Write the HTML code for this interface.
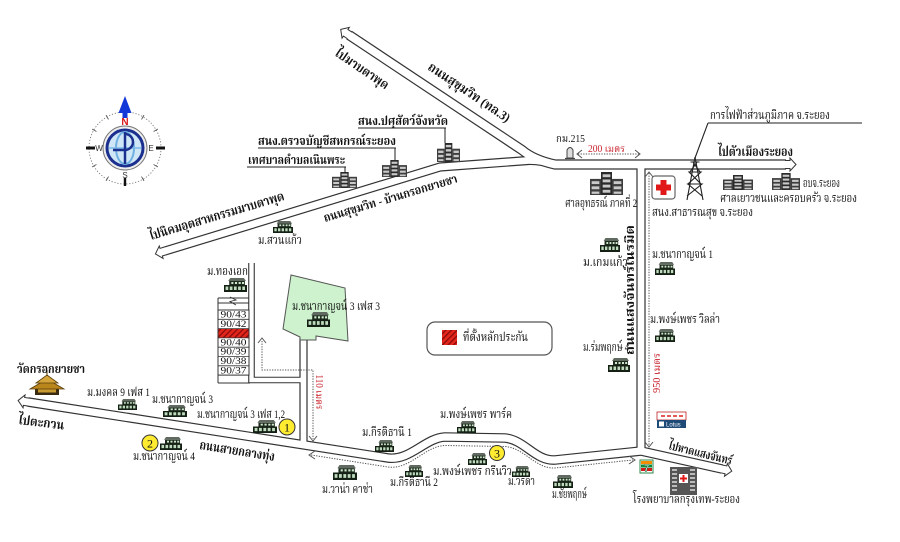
<!DOCTYPE html>
<html><head><meta charset="utf-8">
<style>
html,body{margin:0;padding:0;background:#fff;}
svg{display:block;}
text{font-family:"Liberation Serif","Norasi","Kinnari","Noto Serif Thai","Noto Sans Thai","Garuda","Loma","DejaVu Serif",serif;fill:#111;font-size:12px;}
.b{font-weight:bold;}
.red{fill:#c8202a;}
</style></head><body>
<svg width="900" height="542" viewBox="0 0 900 542" xmlns="http://www.w3.org/2000/svg">
<defs>
<pattern id="hatch" width="4" height="4" patternUnits="userSpaceOnUse" patternTransform="rotate(45)">
<rect width="4" height="4" fill="#e3261c"/><rect width="1.4" height="4" fill="#8e0c0c"/>
</pattern>
<symbol id="h" viewBox="0 0 22 14" preserveAspectRatio="none">
<path d="M6 0H19L21 3H4Z" fill="#606a60"/>
<rect x="5" y="3" width="15" height="4" fill="#1d2a1d"/>
<rect x="7" y="4" width="2" height="2" fill="#cde8cd"/><rect x="10.5" y="4" width="2" height="2" fill="#cde8cd"/><rect x="14" y="4" width="2" height="2" fill="#cde8cd"/><rect x="17.2" y="4" width="2" height="2" fill="#cde8cd"/>
<rect x="0" y="7" width="22" height="7" fill="#142014"/>
<rect x="1.5" y="8.5" width="2.6" height="3.5" fill="#bfdcbf"/><rect x="5.5" y="8.5" width="2.6" height="3.5" fill="#bfdcbf"/><rect x="9.5" y="8.5" width="2.6" height="3.5" fill="#bfdcbf"/><rect x="13.5" y="8.5" width="2.6" height="3.5" fill="#bfdcbf"/><rect x="17.5" y="8.5" width="2.6" height="3.5" fill="#bfdcbf"/>
</symbol>
<symbol id="o" viewBox="0 0 30 20" preserveAspectRatio="none">
<rect x="0" y="6" width="10" height="14" fill="#3e3e3e"/>
<rect x="10" y="0" width="10" height="20" fill="#2a2a2a"/>
<rect x="20" y="6" width="10" height="14" fill="#3e3e3e"/>
<g fill="#c9c9c9">
<rect x="1.5" y="8" width="7" height="2.5"/><rect x="1.5" y="12.5" width="7" height="2.5"/><rect x="1.5" y="17" width="7" height="2"/>
<rect x="11.5" y="2" width="7" height="2.5"/><rect x="11.5" y="6.5" width="7" height="2.5"/><rect x="11.5" y="11" width="7" height="2.5"/><rect x="11.5" y="15.5" width="7" height="2.5"/>
<rect x="21.5" y="8" width="7" height="2.5"/><rect x="21.5" y="12.5" width="7" height="2.5"/><rect x="21.5" y="17" width="7" height="2"/>
</g>
</symbol>
<path id="arr" d="M-1,-4 L4,-4 L4,-6.5 L10,0 L4,6.5 L4,4 L-1,4"/>
</defs>

<rect width="900" height="542" fill="#fff"/>

<!-- ROADS: dark outer strokes -->
<g fill="none" stroke="#333" stroke-linejoin="round" stroke-linecap="butt">
<path d="M349,35 L522,150 Q534,160 555,164.5 L786,164.5" stroke-width="10.2"/>
<path d="M165,251 L440,167 L528,160.5 Q540,160 555,164.5" stroke-width="9.2"/>
<path d="M641,164 L641,451" stroke-width="9.2"/>
<path d="M28,402 L388,458 C410,461 425,438 445,437 L505,438 C525,440 535,461 555,460 L641,451 L722,469" stroke-width="9.6"/>
<path d="M303.5,338 L303.5,446" stroke-width="8.2"/>
<path d="M251.5,263 L251.5,380 L303.5,380" stroke-width="6.6" stroke-linejoin="miter"/>
</g>
<!-- ROADS: white inner -->
<g fill="none" stroke="#fff" stroke-linejoin="round" stroke-linecap="butt">
<path d="M349,35 L522,150 Q534,160 555,164.5 L786,164.5" stroke-width="7.8"/>
<path d="M165,251 L440,167 L528,160.5 Q540,160 555,164.5" stroke-width="6.8"/>
<path d="M641,164 L641,451" stroke-width="6.8"/>
<path d="M28,402 L388,458 C410,461 425,438 445,437 L505,438 C525,440 535,461 555,460 L641,451 L722,469" stroke-width="7.2"/>
<path d="M303.5,338 L303.5,446" stroke-width="5.8"/>
<path d="M251.5,263 L251.5,380 L303.5,380" stroke-width="4.4" stroke-linejoin="miter"/>
</g>

<!-- road end arrows -->
<g fill="#fff" stroke="#333" stroke-width="1">
<use href="#arr" transform="translate(349,35) rotate(213.9)"/>
<use href="#arr" transform="translate(786,164.5)"/>
<use href="#arr" transform="translate(165,251) rotate(163)"/>
<use href="#arr" transform="translate(28,402) rotate(188.8)"/>
<use href="#arr" transform="translate(722,469) rotate(12.5)"/>
</g>

<!-- box column area -->
<g stroke="#333" stroke-width="1" fill="none">
<line x1="218" y1="298" x2="218" y2="383"/>
<line x1="218" y1="383" x2="250" y2="383"/>
<line x1="218" y1="298" x2="249" y2="298"/>
<line x1="218" y1="303" x2="249" y2="303"/>
<path d="M230,297 L236,300 L230,301.5 L236,305" stroke-width="0.9"/>
<rect x="218" y="310" width="31" height="65.1" fill="#fff"/>
</g>
<rect x="218.5" y="328.6" width="30" height="9.3" fill="url(#hatch)"/>
<g stroke="#333" stroke-width="0.8">
<line x1="218" y1="319.3" x2="249" y2="319.3"/>
<line x1="218" y1="328.6" x2="249" y2="328.6"/>
<line x1="218" y1="337.9" x2="249" y2="337.9"/>
<line x1="218" y1="347.2" x2="249" y2="347.2"/>
<line x1="218" y1="356.5" x2="249" y2="356.5"/>
<line x1="218" y1="365.8" x2="249" y2="365.8"/>
</g>
<g text-anchor="middle">
<text x="233.5" y="317.5" textLength="26" lengthAdjust="spacingAndGlyphs" style="font-size:9.5px">90/43</text>
<text x="233.5" y="326.8" textLength="26" lengthAdjust="spacingAndGlyphs" style="font-size:9.5px">90/42</text>
<text x="233.5" y="345.4" textLength="26" lengthAdjust="spacingAndGlyphs" style="font-size:9.5px">90/40</text>
<text x="233.5" y="354.7" textLength="26" lengthAdjust="spacingAndGlyphs" style="font-size:9.5px">90/39</text>
<text x="233.5" y="364" textLength="26" lengthAdjust="spacingAndGlyphs" style="font-size:9.5px">90/38</text>
<text x="233.5" y="373.3" textLength="26" lengthAdjust="spacingAndGlyphs" style="font-size:9.5px">90/37</text>
</g>

<!-- green plot -->
<path d="M291,275 L345,288 L348,341 L316,336 L316,340 L300,340 L300,337 L283,329 Z" fill="#cdf2cd" stroke="#555" stroke-width="1"/>

<!-- dotted distance lines -->
<g fill="none" stroke="#555" stroke-width="1">
<path d="M649,173 L649,446" stroke-dasharray="1.3 1.3"/>
<path d="M645,177 L649,172 L653,177"/>
<path d="M645,442 L649,447 L653,442"/>
<path d="M578,154 L639,154" stroke-dasharray="1.3 1.3"/>
<path d="M582,150 L577,154 L582,158"/>
<path d="M635,150 L640,154 L635,158"/>
<path d="M262,341 L262,370 L313,370 L313,439" stroke-dasharray="1.3 1.3"/>
<path d="M258,343 L262,338 L266,343"/>
<path d="M309,436 L313,441 L317,436"/>
<path d="M311,455 L388,467 C410,470 425,446 445,445.5 L505,446.5 C525,448 535,469 555,468 L633,460" stroke-dasharray="1.3 1.3"/>
<path d="M315,451 L309,455 L315,459"/>
<path d="M629,456 L635,460 L629,464"/>
</g>

<!-- compass -->
<g transform="translate(125,148)">
<circle r="36" fill="none" stroke="#777" stroke-width="0.9" stroke-dasharray="1.2 1.8"/>
<g stroke="#555" stroke-width="0.9">
<line x1="0" y1="-33" x2="0" y2="-38" transform="rotate(30)"/>
<line x1="0" y1="-33" x2="0" y2="-38" transform="rotate(60)"/>
<line x1="0" y1="-33" x2="0" y2="-38" transform="rotate(120)"/>
<line x1="0" y1="-33" x2="0" y2="-38" transform="rotate(150)"/>
<line x1="0" y1="-33" x2="0" y2="-38" transform="rotate(210)"/>
<line x1="0" y1="-33" x2="0" y2="-38" transform="rotate(240)"/>
<line x1="0" y1="-33" x2="0" y2="-38" transform="rotate(300)"/>
<line x1="0" y1="-33" x2="0" y2="-38" transform="rotate(330)"/>
</g>
<rect x="-39" y="-1.5" width="9" height="3" fill="#111"/>
<rect x="31" y="-1.5" width="9" height="3" fill="#111"/>
<rect x="-1.2" y="30" width="2.4" height="8" fill="#111"/>
<circle r="22" fill="#eeeeee" stroke="#777" stroke-width="1"/>
<circle r="18" fill="#cfe6f7" stroke="#1b2f8f" stroke-width="3"/>
<ellipse rx="9" ry="16" fill="none" stroke="#6fb0e0" stroke-width="2"/>
<line x1="-16" y1="0" x2="16" y2="0" stroke="#7ab8e8" stroke-width="1.5"/>
<line x1="0" y1="-16" x2="0" y2="16" stroke="#1b2f8f" stroke-width="2.5"/>
<path d="M0,-14 A8,8 0 0 1 0,2 L-12,2" fill="none" stroke="#1b2f8f" stroke-width="2.5"/>
<polygon points="0,-52 -6.5,-35 6.5,-35" fill="#1238d8"/>
<rect x="-2.5" y="-36" width="5" height="6" fill="#1238d8"/>
<text x="0" y="-23" text-anchor="middle" style="font-family:'Liberation Sans',sans-serif;font-size:10px;fill:#d81818;font-weight:bold">N</text>
<text x="-26" y="3" text-anchor="middle" style="font-family:'Liberation Sans',sans-serif;font-size:8px;fill:#333">W</text>
<text x="26" y="3" text-anchor="middle" style="font-family:'Liberation Sans',sans-serif;font-size:8px;fill:#333">E</text>
<text x="0" y="30" text-anchor="middle" style="font-family:'Liberation Sans',sans-serif;font-size:8px;fill:#333">S</text>
</g>

<!-- office buildings -->
<use href="#o" x="437" y="143" width="23" height="19"/>
<use href="#o" x="382" y="160" width="25" height="17"/>
<use href="#o" x="332" y="172" width="25" height="16"/>
<use href="#o" x="590" y="172" width="33" height="23"/>
<use href="#o" x="723" y="175" width="30" height="15"/>
<use href="#o" x="772" y="173" width="28" height="17"/>

<!-- houses -->
<use href="#h" x="273" y="221" width="20" height="12"/>
<use href="#h" x="224" y="278" width="23" height="14"/>
<use href="#h" x="307" y="312" width="23" height="15"/>
<use href="#h" x="118" y="399" width="19" height="11"/>
<use href="#h" x="163" y="405" width="24" height="12"/>
<use href="#h" x="253" y="420" width="24" height="13"/>
<use href="#h" x="160" y="437" width="22" height="13"/>
<use href="#h" x="375" y="440" width="19" height="12"/>
<use href="#h" x="333" y="465" width="24" height="15"/>
<use href="#h" x="405" y="465" width="18" height="12"/>
<use href="#h" x="457" y="421" width="19" height="12"/>
<use href="#h" x="468" y="453" width="19" height="12"/>
<use href="#h" x="512" y="466" width="18" height="11"/>
<use href="#h" x="553" y="475" width="20" height="13"/>
<use href="#h" x="600" y="238" width="20" height="14"/>
<use href="#h" x="608" y="358" width="22" height="14"/>
<use href="#h" x="655" y="262" width="20" height="13"/>
<use href="#h" x="655" y="329" width="20" height="13"/>

<!-- temple -->
<g>
<rect x="35" y="387" width="24" height="8" fill="#3a2a10"/>
<rect x="38" y="388.5" width="18" height="4" fill="#c89a30"/>
<polygon points="30,389 47,379 64,389" fill="#b8861b" stroke="#5a3c08" stroke-width="0.8"/>
<polygon points="36,383 47,375 58,383" fill="#d4a53a" stroke="#5a3c08" stroke-width="0.8"/>
<line x1="47" y1="370" x2="47" y2="376" stroke="#5a3c08" stroke-width="1"/>
</g>

<!-- yellow circles -->
<g stroke="#333" stroke-width="1" fill="#ffec30">
<circle cx="287" cy="427" r="8"/>
<circle cx="150" cy="443" r="8"/>
<circle cx="497" cy="453" r="7.5"/>
</g>
<g text-anchor="middle">
<text x="287" y="431.5" style="font-size:12px">1</text>
<text x="150" y="447.5" style="font-size:12px">2</text>
<text x="497" y="457.5" style="font-size:12px">3</text>
</g>

<!-- tower -->
<g stroke="#222" stroke-width="1.1" fill="none">
<path d="M695,157 L687,200 M695,157 L703,200"/>
<path d="M690.5,162 L699.5,162 M689,172 L701,172 M688,184 L702,184 M693,162 L700,172 L689,172 L701,184 L688,184 L702,196 M697,162 L690,172 L701,172 L688,184 L702,184 L687,196"/>
<line x1="708" y1="123" x2="695" y2="158"/>
<line x1="708" y1="123" x2="862" y2="123"/>
</g>

<!-- red cross box -->
<rect x="652" y="176" width="23" height="23" rx="3" fill="#fff" stroke="#666" stroke-width="1.2"/>
<path d="M660.5,180 H666.5 V184.5 H671 V190.5 H666.5 V195 H660.5 V190.5 H656 V184.5 H660.5 Z" fill="#e01818"/>

<!-- milestone -->
<path d="M567,158 L567,150 Q570,145 573,150 L573,158 Z" fill="#ddd" stroke="#444" stroke-width="1"/>
<line x1="565" y1="158.5" x2="575" y2="158.5" stroke="#444" stroke-width="1.2"/>

<!-- lotus -->
<rect x="657" y="412" width="29" height="8" fill="#fff" stroke="#b22" stroke-width="0.8"/>
<path d="M661,416 h4 m2,0 h4 m2,0 h4 m2,0 h4" stroke="#d22" stroke-width="1.5"/>
<rect x="657" y="420" width="29" height="8" fill="#1e4a78"/>
<rect x="659" y="421.5" width="5" height="5" fill="#fff"/>
<text x="666" y="426.5" style="font-family:'Liberation Sans',sans-serif;font-size:6px;fill:#fff">Lotus</text>

<!-- 7-eleven -->
<rect x="640" y="460" width="13" height="13" fill="#fff" stroke="#2a8a4a" stroke-width="1"/>
<rect x="641" y="461" width="11" height="3" fill="#f28c00"/>
<rect x="641" y="464.5" width="11" height="3" fill="#0a8a3a"/>
<rect x="641" y="468" width="11" height="3" fill="#d01a1a"/>
<text x="646.5" y="471.5" text-anchor="middle" style="font-family:'Liberation Sans',sans-serif;font-size:10px;font-weight:bold;fill:#fff;stroke:#0a6a2a;stroke-width:0.5">7</text>

<!-- hospital building -->
<rect x="670" y="467" width="27" height="28" fill="#555"/>
<g fill="#bbb">
<rect x="672" y="469" width="5" height="2"/><rect x="690" y="469" width="5" height="2"/>
<rect x="672" y="473" width="5" height="2"/><rect x="690" y="473" width="5" height="2"/>
<rect x="672" y="477" width="5" height="2"/><rect x="690" y="477" width="5" height="2"/>
<rect x="672" y="481" width="5" height="2"/><rect x="690" y="481" width="5" height="2"/>
<rect x="672" y="485" width="5" height="2"/><rect x="690" y="485" width="5" height="2"/>
<rect x="672" y="489" width="5" height="2"/><rect x="690" y="489" width="5" height="2"/>
</g>
<rect x="679" y="474" width="9" height="9" fill="#fff"/>
<path d="M682.5,475 h2 v2.5 h2.5 v2 h-2.5 v2.5 h-2 v-2.5 h-2.5 v-2 h2.5 z" fill="#e01818"/>

<!-- legend -->
<rect x="427" y="322" width="125" height="33" rx="8" fill="#fff" stroke="#555" stroke-width="1.2"/>
<rect x="442" y="330" width="15" height="15" fill="url(#hatch)"/>
<text x="463" y="341" textLength="65" lengthAdjust="spacingAndGlyphs">ที่ตั้งหลักประกัน</text>

<!-- underlined labels with leaders -->
<g stroke="#222" stroke-width="1">
<line x1="358" y1="128" x2="446" y2="128"/><line x1="445" y1="128" x2="445" y2="143"/>
<line x1="258" y1="148" x2="396" y2="148"/><line x1="395" y1="148" x2="395" y2="160"/>
<line x1="247" y1="167" x2="346" y2="167"/><line x1="345" y1="167" x2="345" y2="173"/>
</g>
<text x="358" y="125" class="b" textLength="90" lengthAdjust="spacingAndGlyphs">สนง.ปศุสัตว์จังหวัด</text>
<text x="258" y="145" class="b" textLength="138" lengthAdjust="spacingAndGlyphs">สนง.ตรวจบัญชีสหกรณ์ระยอง</text>
<text x="248" y="164" class="b" textLength="97" lengthAdjust="spacingAndGlyphs">เทศบาลตำบลเนินพระ</text>

<!-- rotated road labels -->
<text transform="translate(334,55) rotate(34)" class="b" style="font-size:13px" textLength="62" lengthAdjust="spacingAndGlyphs">ไปมาบตาพุด</text>
<text transform="translate(427,69) rotate(34)" class="b" style="font-size:13px" textLength="96" lengthAdjust="spacingAndGlyphs">ถนนสุขุมวิท (ทล.3)</text>
<text transform="translate(151,240) rotate(-16.7)" class="b" style="font-size:13px" textLength="140" lengthAdjust="spacingAndGlyphs">ไปนิคมอุตสาหกรรมมาบตาพุด</text>
<text transform="translate(325,222) rotate(-16.7)" class="b" style="font-size:12px" textLength="139" lengthAdjust="spacingAndGlyphs">ถนนสุขุมวิท - บ้านกรอกยายชา</text>
<text x="718" y="156" class="b" style="font-size:13px" textLength="75" lengthAdjust="spacingAndGlyphs">ไปตัวเมืองระยอง</text>
<text transform="translate(634,290) rotate(-90)" text-anchor="middle" class="b" style="font-size:12px" textLength="130" lengthAdjust="spacingAndGlyphs">ถนนแสงจันทร์เนรมิต</text>
<text transform="translate(660,373) rotate(-90)" text-anchor="middle" class="red" style="font-size:10px" textLength="40" lengthAdjust="spacingAndGlyphs">950 เมตร</text>
<text transform="translate(316,392) rotate(90)" text-anchor="middle" class="red" style="font-size:10px" textLength="35" lengthAdjust="spacingAndGlyphs">110 เมตร</text>
<text transform="translate(668,449) rotate(14)" class="b" style="font-size:12px" textLength="65" lengthAdjust="spacingAndGlyphs">ไปหาดแสงจันทร์</text>
<text transform="translate(199,449) rotate(9)" class="b" style="font-size:13px" textLength="76" lengthAdjust="spacingAndGlyphs">ถนนสายกลางทุ่ง</text>
<text transform="translate(18,424) rotate(7)" class="b" style="font-size:13px" textLength="46" lengthAdjust="spacingAndGlyphs">ไปตะกวน</text>

<!-- plain labels -->
<text x="258" y="244" textLength="44" lengthAdjust="spacingAndGlyphs">ม.สวนแก้ว</text>
<text x="207" y="275" textLength="41" lengthAdjust="spacingAndGlyphs">ม.ทองเอก</text>
<text x="292" y="310" textLength="88" lengthAdjust="spacingAndGlyphs">ม.ชนากาญจน์ 3 เฟส 3</text>
<text x="87" y="396" textLength="63" lengthAdjust="spacingAndGlyphs">ม.มงคล 9 เฟส 1</text>
<text x="152" y="403" textLength="61" lengthAdjust="spacingAndGlyphs">ม.ชนากาญจน์ 3</text>
<text x="197" y="418" textLength="88" lengthAdjust="spacingAndGlyphs">ม.ชนากาญจน์ 3 เฟส 1,2</text>
<text x="133" y="460" textLength="62" lengthAdjust="spacingAndGlyphs">ม.ชนากาญจน์ 4</text>
<text x="362" y="436" textLength="50" lengthAdjust="spacingAndGlyphs">ม.กีรติธานี 1</text>
<text x="322" y="493" textLength="51" lengthAdjust="spacingAndGlyphs">ม.วาน่า คาซ่า</text>
<text x="390" y="486" textLength="48" lengthAdjust="spacingAndGlyphs">ม.กีรติธานี 2</text>
<text x="440" y="418" textLength="72" lengthAdjust="spacingAndGlyphs">ม.พงษ์เพชร พาร์ค</text>
<text x="433" y="475" textLength="79" lengthAdjust="spacingAndGlyphs">ม.พงษ์เพชร กรีนวิว</text>
<text x="508" y="485" textLength="27" lengthAdjust="spacingAndGlyphs">ม.วรดา</text>
<text x="552" y="498" textLength="35" lengthAdjust="spacingAndGlyphs">ม.ชัยพฤกษ์</text>
<text x="633" y="503" textLength="107" lengthAdjust="spacingAndGlyphs">โรงพยาบาลกรุงเทพ-ระยอง</text>
<text x="583" y="266" textLength="45" lengthAdjust="spacingAndGlyphs">ม.เกมแก้ว</text>
<text x="583" y="351" textLength="46" lengthAdjust="spacingAndGlyphs">ม.ร่มพฤกษ์ 4</text>
<text x="652" y="258" textLength="61" lengthAdjust="spacingAndGlyphs">ม.ชนากาญจน์ 1</text>
<text x="650" y="323" textLength="70" lengthAdjust="spacingAndGlyphs">ม.พงษ์เพชร วิลล่า</text>
<text x="565" y="207" textLength="72" lengthAdjust="spacingAndGlyphs">ศาลอุทธรณ์ ภาคที่ 2</text>
<text x="652" y="216" textLength="101" lengthAdjust="spacingAndGlyphs">สนง.สาธารณสุข จ.ระยอง</text>
<text x="803" y="187" textLength="37" lengthAdjust="spacingAndGlyphs">อบจ.ระยอง</text>
<text x="720" y="202" textLength="137" lengthAdjust="spacingAndGlyphs">ศาลเยาวชนและครอบครัว จ.ระยอง</text>
<text x="710" y="119" textLength="120" lengthAdjust="spacingAndGlyphs">การไฟฟ้าส่วนภูมิภาค จ.ระยอง</text>
<text x="556" y="142" style="font-size:11px" textLength="29" lengthAdjust="spacingAndGlyphs">กม.215</text>
<text x="588" y="152" class="red" style="font-size:10px" textLength="37" lengthAdjust="spacingAndGlyphs">200 เมตร</text>
<text x="17" y="373" class="b" textLength="68" lengthAdjust="spacingAndGlyphs">วัดกรอกยายชา</text>
</svg>
</body></html>
